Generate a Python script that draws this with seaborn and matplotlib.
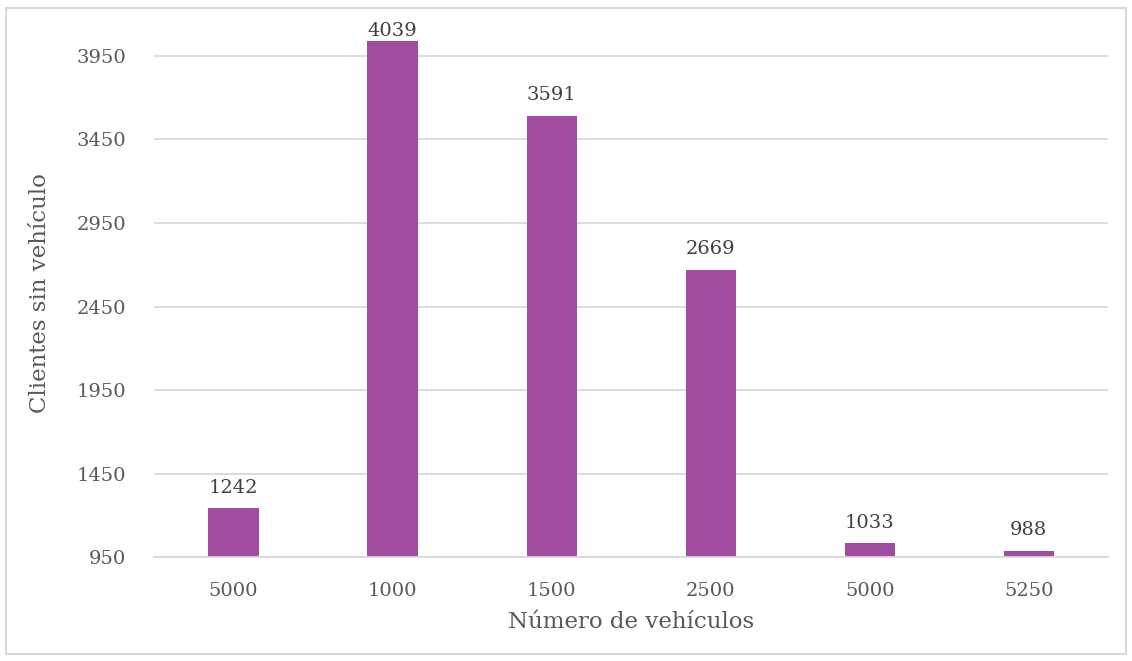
import matplotlib
matplotlib.use("Agg")
import matplotlib.pyplot as plt
import seaborn as sns
import pandas as pd
from matplotlib.patches import Rectangle

categories = ["5000", "1000", "1500", "2500", "5000 ", "5250"]
values = [1242, 4039, 3591, 2669, 1033, 988]
tick_labels = ["5000", "1000", "1500", "2500", "5000", "5250"]
yticks = [950, 1450, 1950, 2450, 2950, 3450, 3950]

sns.set_theme(style="white")
plt.rcParams['font.family'] = ['DejaVu Serif']

df = pd.DataFrame({"cat": categories, "val": values})

fig = plt.figure(figsize=(11.32, 6.61), dpi=100)
ax = fig.add_axes([0.136, 0.157, 0.843, 0.798])
sns.barplot(data=df, x="cat", y="val", color="#A04CA0", width=0.315, ax=ax,
            saturation=1, edgecolor="none")
ymax = 4106
ax.set_ylim(950, ymax)
ax.set_xlim(-0.5, 5.5)
ax.set_yticks(yticks)
ax.set_yticklabels([str(t) for t in yticks])
ax.set_xticks(range(len(tick_labels)))
ax.set_xticklabels(tick_labels)
ax.tick_params(axis='both', length=0, labelsize=14, colors="#595959")
ax.tick_params(axis='y', pad=20)
ax.tick_params(axis='x', pad=18)
ax.grid(axis='y', color="#D9D9D9", linewidth=1.3)
ax.set_axisbelow(True)
for s in ["top", "right", "left"]:
    ax.spines[s].set_visible(False)
ax.spines["bottom"].set_color("#D9D9D9")
ax.spines["bottom"].set_linewidth(1.3)

for i, v in enumerate(values):
    ypos = min(v + 70, ymax - 62)
    ax.text(i, ypos, str(v), ha="center", va="bottom", fontsize=14, color="#404040",
            clip_on=False)

ax.set_xlabel("Número de vehículos", fontsize=16.5, color="#595959", labelpad=8)
ax.set_ylabel("Clientes sin vehículo", fontsize=16.5, color="#595959", labelpad=18)

fig.patches.append(Rectangle((0.005, 0.01), 0.99, 0.978, transform=fig.transFigure,
                             fill=False, edgecolor="#D9D9D9", linewidth=1.5))

fig.savefig("out.png", dpi=100, facecolor="white")
